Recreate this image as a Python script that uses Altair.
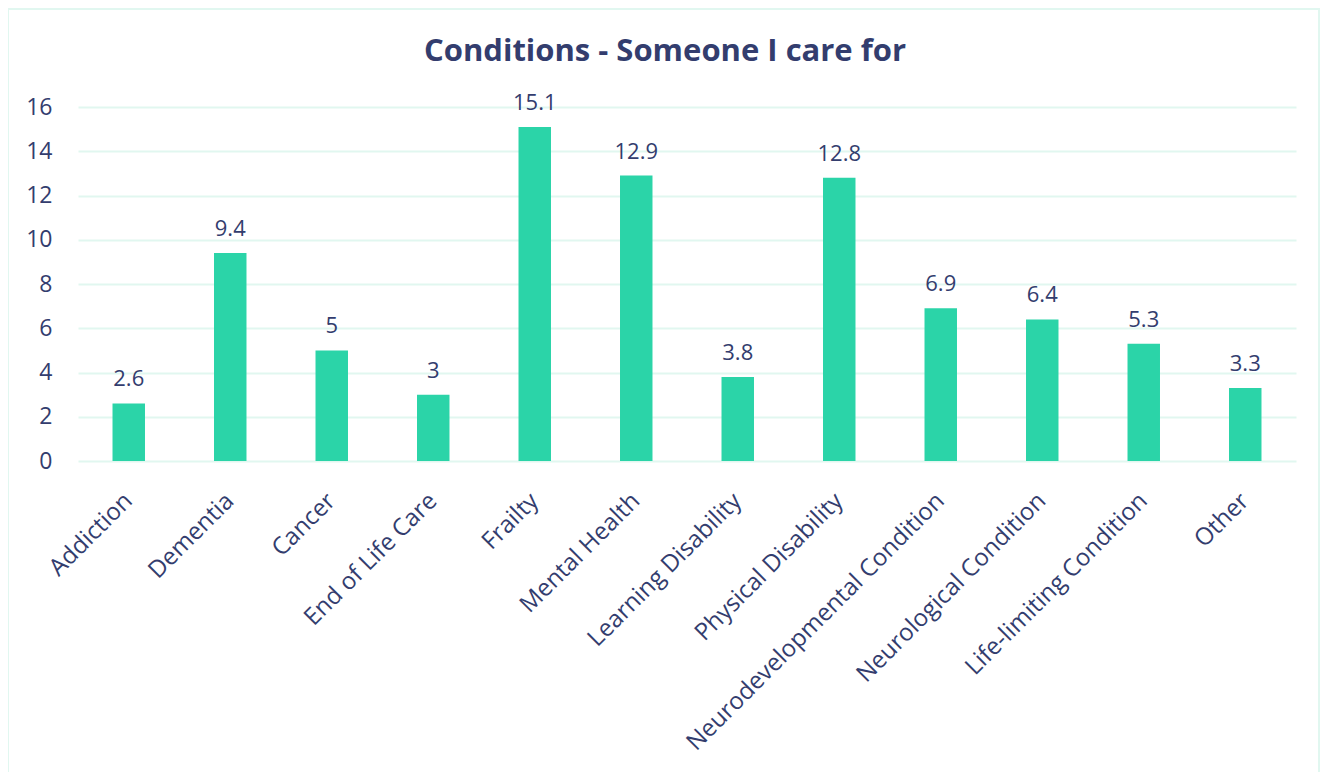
import altair as alt
import pandas as pd

categories = ["Addiction", "Dementia", "Cancer", "End of Life Care", "Frailty", "Mental Health",
              "Learning Disability", "Physical Disability", "Neurodevelopmental Condition",
              "Neurological Condition", "Life-limiting Condition", "Other"]
values = [2.6, 9.4, 5, 3, 15.1, 12.9, 3.8, 12.8, 6.9, 6.4, 5.3, 3.3]
y_ticks = [0, 2, 4, 6, 8, 10, 12, 14, 16]
title_text = "Conditions - Someone I care for"

df = pd.DataFrame({"cat": categories, "val": values})
df["lab"] = [("%g" % v) for v in values]

NAVY = "#333D6E"
BAR = "#2BD4A8"
GRID = "#E1F7F0"
FONT = "Open Sans"

W, H = 1218, 354

x = alt.X("cat:N", sort=categories, title=None,
          scale=alt.Scale(paddingInner=0.68, paddingOuter=0.34),
          axis=alt.Axis(labelAngle=-45, labelAlign="right", labelBaseline="middle",
                        labelFontSize=24, labelColor=NAVY, labelFont=FONT,
                        labelPadding=36, ticks=False, domain=False, labelLimit=400))
y = alt.Y("val:Q", title=None,
          scale=alt.Scale(domain=[0, 16], nice=False),
          axis=alt.Axis(values=y_ticks, labelFontSize=23, labelColor=NAVY, labelFont=FONT,
                        labelPadding=26, ticks=False, domain=False, grid=True,
                        gridColor=GRID, gridWidth=2))

one = pd.DataFrame({"t": [title_text]})

border = alt.Chart(one).mark_rect(
    fill="transparent", stroke=GRID, strokeWidth=2, clip=False
).encode(x=alt.value(-70), x2=alt.value(1241), y=alt.value(-98), y2=alt.value(690))

title = alt.Chart(one).mark_text(
    fontSize=31, font=FONT, fontWeight="bold", color=NAVY, align="center", baseline="middle"
).encode(x=alt.value(587), y=alt.value(-55), text="t:N")

bars = alt.Chart(df).mark_bar(color=BAR).encode(x=x, y=y)
labels = alt.Chart(df).mark_text(baseline="bottom", dy=-12, fontSize=22, color=NAVY, font=FONT).encode(
    x=alt.X("cat:N", sort=categories), y="val:Q", text="lab:N")

chart = alt.layer(border, title, bars, labels).properties(
    width=W, height=H,
    autosize=alt.AutoSizeParams(type="none"),
    padding={"left": 70, "top": 99, "right": 25, "bottom": 311},
).configure_view(stroke=None)

chart.save("out.html", embed_options={"renderer": "svg", "actions": False})
